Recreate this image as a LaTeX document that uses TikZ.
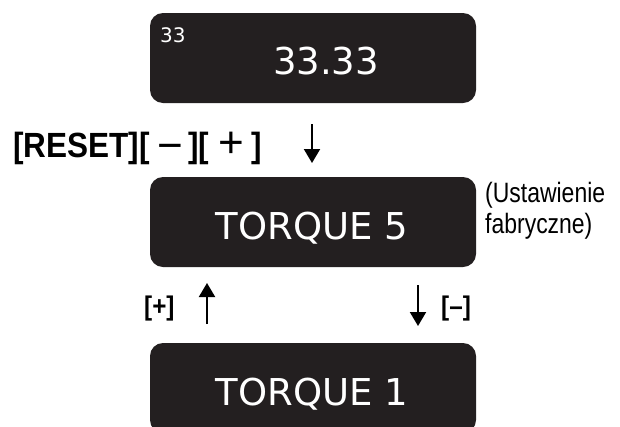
\documentclass[tikz,border=0pt]{standalone}
\usepackage{fontspec}
\setmainfont{DejaVu Sans}
\newfontfamily\lcdfont{DejaVu Sans}
\newfontfamily\narrowfont[FakeStretch=0.82]{Liberation Sans}
\newfontfamily\keyfont[FakeStretch=0.9]{Liberation Sans}
\newfontfamily\symfont{Liberation Sans}
\usetikzlibrary{arrows.meta}
\definecolor{lcd}{HTML}{231F20}
\newcommand{\bigsym}[1]{{\symfont\fontsize{44}{44}\selectfont #1}}
\begin{document}
\begin{tikzpicture}[x=1pt,y=-1pt,
  lcdbox/.style={fill=lcd,draw=none,rounded corners=13pt,minimum width=326pt,minimum height=90pt,inner sep=0pt},
  lcdtext/.style={text=white,font=\lcdfont\fontsize{37}{40}\selectfont,inner sep=0pt,anchor=base},
  smalltext/.style={text=white,font=\lcdfont\fontsize{20}{22}\selectfont,inner sep=0pt,anchor=base west},
  keytext/.style={font=\keyfont\fontsize{35}{38}\selectfont,inner sep=0pt,anchor=base west},
  keysmall/.style={font=\keyfont\bfseries\fontsize{27}{29}\selectfont,inner sep=0pt,anchor=base west},
  notetext/.style={font=\narrowfont\fontsize{28}{31}\selectfont,inner sep=0pt,anchor=north west,align=left},
  flow/.style={line width=2pt,-{Triangle[width=16pt,length=14pt]}}]
\useasboundingbox (0,0) rectangle (620,426);
% boxes
\node[lcdbox] (b1) at (313,58) {};
\node[lcdbox] (b2) at (313,222) {};
\node[lcdbox] (b3) at (313,388) {};
% texts in boxes
\node[smalltext] (t33) at (160,42) {33};
\node[lcdtext] (t1) at (326,74) {33.33};
\node[lcdtext] (t2) at (312,239) {TORQUE 5};
\node[lcdtext] (t3) at (312,405) {TORQUE 1};
% key labels
\node[keytext] (k1) at (13,157) {{\bfseries [RESET][}\hspace{8pt}\raisebox{-3pt}{\bigsym{−}}\hspace{5pt}{\bfseries ][}\hspace{9pt}\bigsym{+}\hspace{7pt}{\bfseries ]}};
\node[keysmall] (kp) at (144,315) {[+]};
\node[keysmall] (km) at (441,315) {[–]};
\node[notetext] (note) at (485,182) {(Ustawienie\\fabryczne)};
% arrows
\coordinate (a1s) at (312,124);
\coordinate (a1e) at (312,163);
\coordinate (a2s) at (207,324);
\coordinate (a2e) at (207,283);
\coordinate (a3s) at (418,285);
\coordinate (a3e) at (418,326);
\draw[flow] (a1s) -- (a1e);
\draw[flow] (a2s) -- (a2e);
\draw[flow] (a3s) -- (a3e);
\end{tikzpicture}
\end{document}
